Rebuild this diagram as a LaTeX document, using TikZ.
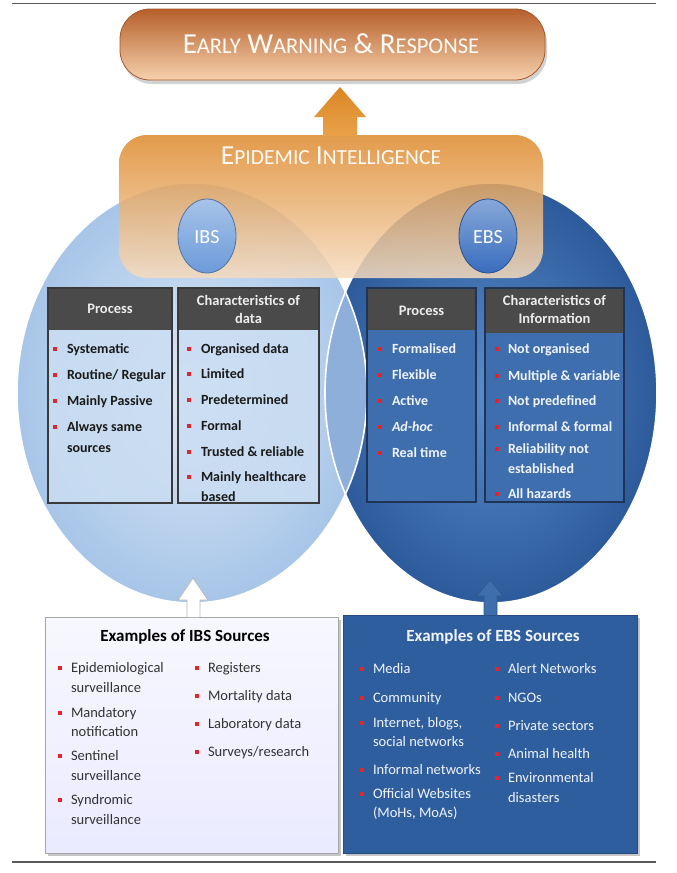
\documentclass[tikz,border=0pt]{standalone}
\usepackage{fontspec}
\setmainfont{Carlito}
\definecolor{bred}{HTML}{E0262C}
\definecolor{rulegray}{HTML}{5A5A5A}
\definecolor{ibsin}{HTML}{DCE9F7}
\definecolor{ibsout}{HTML}{A7C5E8}
\definecolor{ebsin}{HTML}{5C8CCC}
\definecolor{ebsout}{HTML}{2C5A9A}
\definecolor{lens}{HTML}{8EAFD9}
\definecolor{hdr}{HTML}{4A4A4A}
\definecolor{lbox}{HTML}{CADDF2}
\definecolor{rbox}{HTML}{3F6EAE}
\definecolor{rboxline}{HTML}{1E3556}
\definecolor{lboxline}{HTML}{3A3A3A}
\definecolor{ebssrc}{HTML}{2F5E9F}
\definecolor{darktxt}{HTML}{1A1A1A}
\definecolor{graytxt}{HTML}{333333}
\definecolor{lighttxt}{HTML}{F0F4FA}
\definecolor{bantop}{HTML}{B65F2A}
\definecolor{banmid}{HTML}{DE9258}
\definecolor{banbot}{HTML}{F6D1AD}
\definecolor{bandraw}{HTML}{A5582A}
\definecolor{eitop}{HTML}{DE8A2C}
\definecolor{eimid}{HTML}{EBA656}
\definecolor{eibot}{HTML}{F6DCC0}
\definecolor{arrtop}{HTML}{DB8624}
\definecolor{arrbot}{HTML}{E9A24A}
\definecolor{ibsoval}{HTML}{6C9BDA}
\definecolor{ebsoval}{HTML}{386DBE}
\newcommand\bsq{\textcolor{bred}{\rule[2.5pt]{3.6pt}{4pt}}}
\newcommand\bigsc[2]{{\fontsize{29}{29}\selectfont #1}{\fontsize{22.5}{22.5}\selectfont #2}}
\newcommand\midsc[2]{{\fontsize{27.5}{27.5}\selectfont #1}{\fontsize{21.5}{21.5}\selectfont #2}}
\tikzset{
  hline/.style={draw=rulegray, line width=1.5pt},
  ring/.style={draw=white, line width=1.6pt},
  hdrbox/.style={fill=hdr, draw=none},
  hdrtxt/.style={text=white!93!black, font=\fontsize{14.5}{18}\selectfont\bfseries, align=center, inner sep=0pt},
  lst/.style={anchor=base west, inner sep=0pt, font=\fontsize{14}{20}\selectfont\bfseries},
  srclst/.style={anchor=base west, inner sep=0pt, font=\fontsize{14.5}{20}\selectfont},
  oval/.style={draw=#1!75!black, line width=0.8pt, top color=#1!60!white, bottom color=#1},
}
\begin{document}
\begin{tikzpicture}[x=1pt,y=-1pt]
\useasboundingbox (0,0) rectangle (677,873);
\fill[white] (0,0) rectangle (677,873);

% top and bottom rules
\coordinate (r1a) at (12,3.5); \coordinate (r1b) at (656,3.5);
\coordinate (r2a) at (12,862); \coordinate (r2b) at (656,862);
\draw[hline] (r1a) -- (r1b);
\draw[hline] (r2a) -- (r2b);

% circles
\shade[inner color=ibsin, outer color=ibsout] (192,393) ellipse [x radius=175pt, y radius=210pt];
\shade[inner color=ebsin, outer color=ebsout] (491,393) ellipse [x radius=166pt, y radius=210pt];
\begin{scope}
  \clip (192,393) ellipse [x radius=175pt, y radius=210pt];
  \fill[lens] (491,393) ellipse [x radius=166pt, y radius=210pt];
\end{scope}
\draw[ring] (192,393) ellipse [x radius=175pt, y radius=210pt];
\draw[ring] (491,393) ellipse [x radius=166pt, y radius=210pt];

% epidemic intelligence shape
\shade[rounded corners=28pt, top color=eitop, middle color=eimid, bottom color=eibot, fill opacity=0.85]
  (119,135) rectangle (543,278);
\node[text=white!96!orange, inner sep=0pt] (ei) at (331,156) {\midsc{E}{PIDEMIC}\hspace{6pt}\midsc{I}{NTELLIGENCE}};

% arrow up
\shade[top color=arrtop, bottom color=arrbot]
  (323,136) -- (323,117) -- (314,117) -- (340,87) -- (366,117) -- (357,117) -- (357,136) -- cycle;

% banner
\fill[gray!35, rounded corners=30pt] (122,13) rectangle (547,84);
\shade[rounded corners=30pt, top color=bantop, middle color=banmid, bottom color=banbot, draw=bandraw, line width=0.8pt]
  (120,9) rectangle (545,80);
\node[text=white!97!orange, inner sep=0pt] (ewr) at (331,44) {\bigsc{E}{ARLY}\hspace{6.5pt}\bigsc{W}{ARNING}\hspace{6.5pt}\bigsc{\&}{}\hspace{6.5pt}\bigsc{R}{ESPONSE}};

% IBS / EBS ovals
\draw[oval=ibsoval] (207,236) ellipse [x radius=29pt, y radius=37pt];
\node[text=white, font=\fontsize{20}{20}\selectfont, inner sep=0pt] (ibs) at (207,237) {IBS};
\draw[oval=ebsoval] (488,236) ellipse [x radius=29pt, y radius=37pt];
\node[text=white, font=\fontsize{20}{20}\selectfont, inner sep=0pt] (ebs) at (488,237) {EBS};

% ---- IBS boxes
\fill[lbox, fill opacity=0.85] (48,288) rectangle (172,503);
\fill[hdrbox] (48,288) rectangle (172,330);
\draw[lboxline, line width=1.2pt] (48,288) rectangle (172,503);
\node[hdrtxt] (h1) at (110,309) {Process};
\fill[lbox, fill opacity=0.85] (178,288) rectangle (319,503);
\fill[hdrbox] (178,288) rectangle (319,330);
\draw[lboxline, line width=1.2pt] (178,288) rectangle (319,503);
\node[hdrtxt] (h2) at (248.5,309) {Characteristics of\\data};

\node[lst, text=darktxt] (l1) at (53.2,353) {\begin{tabular}[t]{@{}l@{\hspace{10pt}}l@{}}
\bsq & Systematic\\[6pt]
\bsq & Routine/ Regular\\[6pt]
\bsq & Mainly Passive\\[6pt]
\bsq & Always same\\[1pt]
 & sources
\end{tabular}};
\node[lst, text=darktxt] (l2) at (187.2,353) {\begin{tabular}[t]{@{}l@{\hspace{10pt}}l@{}}
\bsq & Organised data\\[5pt]
\bsq & Limited\\[6pt]
\bsq & Predetermined\\[6pt]
\bsq & Formal\\[6pt]
\bsq & Trusted \& reliable\\[5pt]
\bsq & Mainly healthcare\\
 & based
\end{tabular}};

% ---- EBS boxes
\fill[rbox] (367,288) rectangle (476,502);
\fill[hdrbox] (367,288) rectangle (476,330);
\draw[rboxline, line width=1.2pt] (367,288) rectangle (476,502);
\node[hdrtxt] (h3) at (421.5,311) {Process};
\fill[rbox] (485,288) rectangle (624,502);
\fill[hdrbox] (485,288) rectangle (624,333);
\draw[rboxline, line width=1.2pt] (485,288) rectangle (624,502);
\node[hdrtxt] (h4) at (554.5,309) {Characteristics of\\Information};

\node[lst, text=lighttxt] (r1) at (378.2,353) {\begin{tabular}[t]{@{}l@{\hspace{10pt}}l@{}}
\bsq & Formalised\\[6pt]
\bsq & Flexible\\[6pt]
\bsq & Active\\[6pt]
\bsq & \textit{Ad-hoc}\\[6pt]
\bsq & Real time
\end{tabular}};
\node[lst, text=lighttxt] (r2) at (495.2,353) {\begin{tabular}[t]{@{}l@{\hspace{9pt}}l@{}}
\bsq & Not organised\\[7pt]
\bsq & Multiple \& variable\\[5pt]
\bsq & Not predefined\\[6pt]
\bsq & Informal \& formal\\[2pt]
\bsq & Reliability not\\
 & established\\[5pt]
\bsq & All hazards
\end{tabular}};

% ---- sources boxes
\fill[gray!45] (48,620) rectangle (341,856);
\shade[top color=white!97!blue, bottom color=blue!8!white, draw=gray!70, line width=0.8pt] (45,617) rectangle (338,853);
\node[font=\fontsize{17}{20}\selectfont\bfseries, text=black, inner sep=0pt] (t1) at (185,637) {Examples of IBS Sources};
\node[srclst, text=graytxt] (s1) at (58.2,672) {\begin{tabular}[t]{@{}l@{\hspace{9pt}}l@{}}
\bsq & Epidemiological\\
 & surveillance\\[5pt]
\bsq & Mandatory\\[-1pt]
 & notification\\[4pt]
\bsq & Sentinel\\
 & surveillance\\[4pt]
\bsq & Syndromic\\
 & surveillance
\end{tabular}};
\node[srclst, text=graytxt] (s2) at (195.2,672) {\begin{tabular}[t]{@{}l@{\hspace{9pt}}l@{}}
\bsq & Registers\\[8pt]
\bsq & Mortality data\\[8pt]
\bsq & Laboratory data\\[8pt]
\bsq & Surveys/research
\end{tabular}};

\fill[gray!45] (346,618) rectangle (640,856);
\fill[ebssrc, draw=ebssrc!80!black, line width=0.8pt] (343,615) rectangle (637,853);
\node[font=\fontsize{17}{20}\selectfont\bfseries, text=lighttxt, inner sep=0pt] (t2) at (493,637) {Examples of EBS Sources};
\node[srclst, text=lighttxt] (s3) at (360.2,673) {\begin{tabular}[t]{@{}l@{\hspace{9pt}}l@{}}
\bsq & Media\\[9pt]
\bsq & Community\\[5pt]
\bsq & Internet, blogs,\\[-1pt]
 & social networks\\[8pt]
\bsq & Informal networks\\[4pt]
\bsq & Official Websites\\[-1pt]
 & (MoHs, MoAs)
\end{tabular}};
\node[srclst, text=lighttxt] (s4) at (495.2,673) {\begin{tabular}[t]{@{}l@{\hspace{9pt}}l@{}}
\bsq & Alert Networks\\[9pt]
\bsq & NGOs\\[8pt]
\bsq & Private sectors\\[8pt]
\bsq & Animal health\\[4pt]
\bsq & Environmental\\
 & disasters
\end{tabular}};

% small block arrows into circles
\fill[white, draw=gray!55, line width=0.8pt]
  (187,617) -- (187,600) -- (178,600) -- (193,578) -- (208,600) -- (200,600) -- (200,617);
\fill[rbox, draw=rbox!80!black, line width=0.6pt]
  (484,615) -- (484,596) -- (477,596) -- (490,580) -- (503,596) -- (497,596) -- (497,615);
\end{tikzpicture}
\end{document}
